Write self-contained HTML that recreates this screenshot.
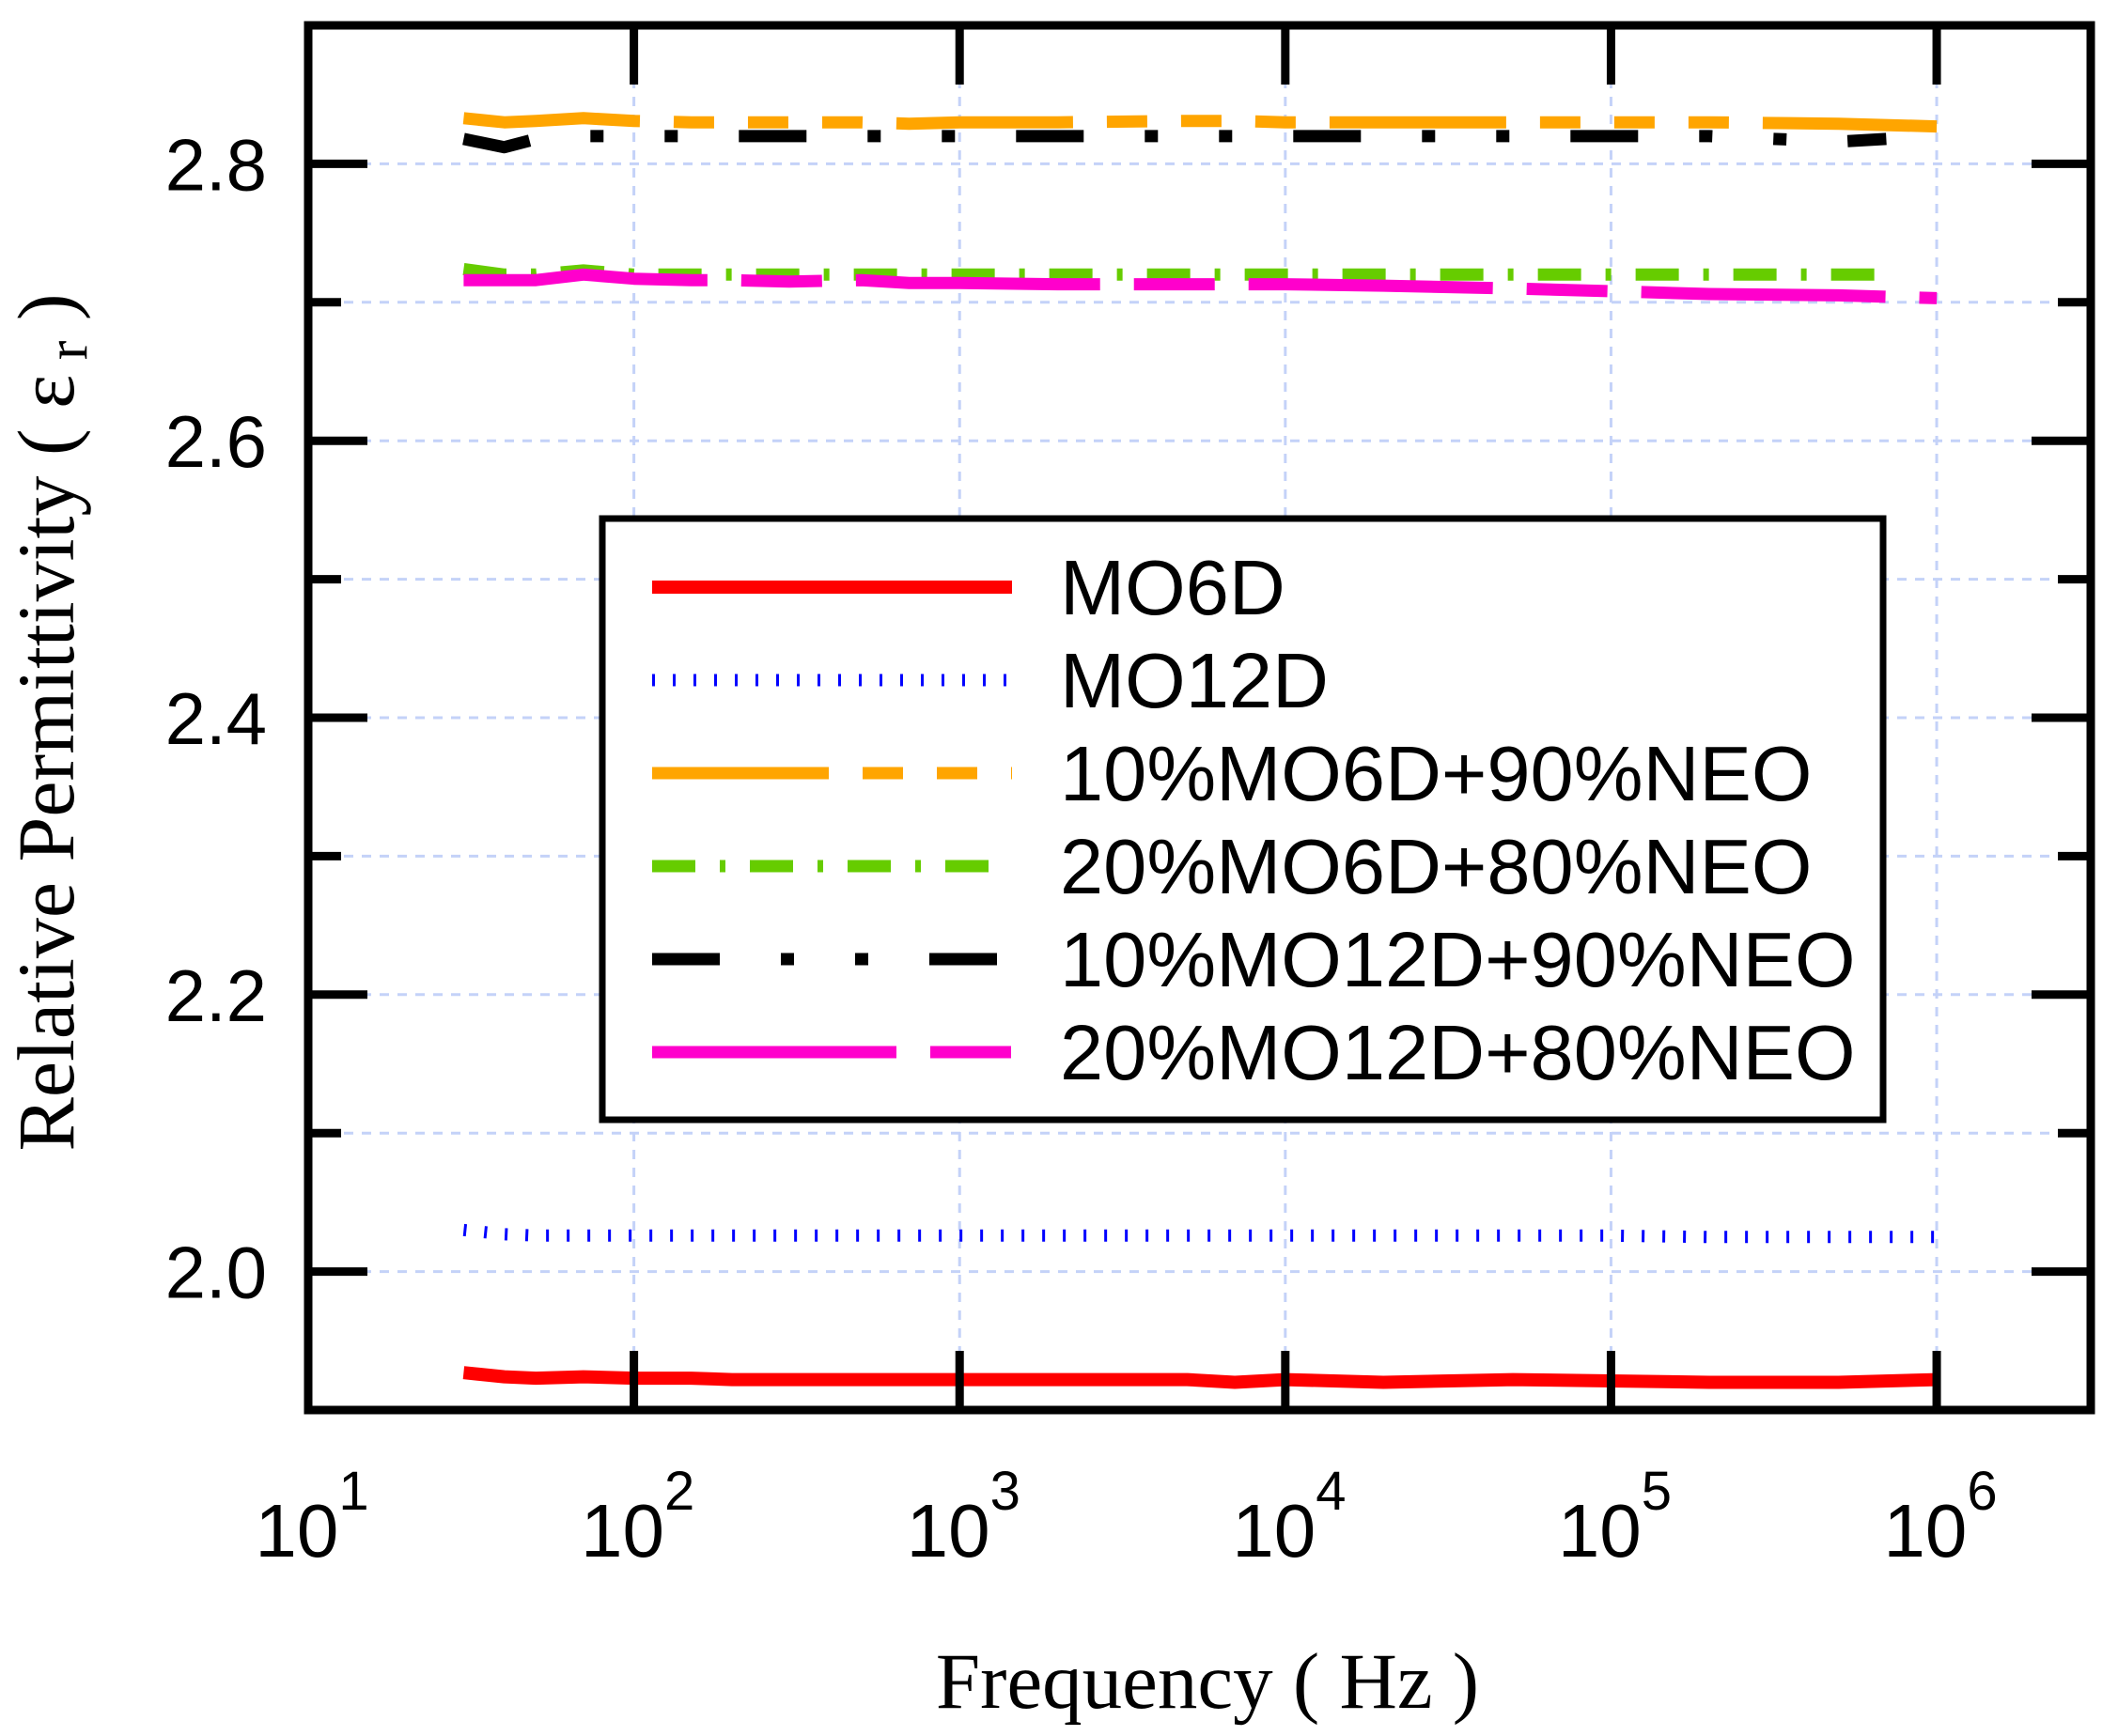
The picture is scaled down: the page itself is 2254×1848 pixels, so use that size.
<!DOCTYPE html>
<html><head><meta charset="utf-8"><style>
html,body{margin:0;padding:0;background:#fff}
svg{display:block}
text{font-family:"Liberation Sans",sans-serif}
.serif{font-family:"Liberation Serif",serif}
</style></head><body>
<svg id="chart" width="2254" height="1848" viewBox="0 0 2254 1848" xmlns="http://www.w3.org/2000/svg">
<g id="grid"></g>
<g id="series"></g>
<g id="axes"></g>
<g id="legend"></g>
<text class="serif" x="1285" y="1818" font-size="85" text-anchor="middle">Frequency ( Hz )</text>
<text class="serif" transform="translate(78,769) rotate(-90)" font-size="86" text-anchor="middle">Relative Permittivity ( ε<tspan font-size="62" dy="14"> r</tspan><tspan dy="-14"> )</tspan></text>
</svg>
<script>
const freqs=[30,40,50,70,100,150,200,300,500,700,1e3,2e3,5e3,7e3,1e4,2e4,5e4,1e5,2e5,5e5,1e6];
const freqsShort=[30,40,50,70,100,150,200,300,500,700,1e3,2e3,5e3,7e3,1e4,2e4,5e4,1e5,2e5,5e5,7e5];
const mo6d=[1.927,1.924,1.923,1.924,1.923,1.923,1.922,1.922,1.922,1.922,1.922,1.922,1.922,1.920,1.922,1.920,1.922,1.921,1.920,1.920,1.922];
const mo12d=[2.030,2.027,2.026,2.026,2.026,2.026,2.026,2.026,2.026,2.026,2.026,2.026,2.026,2.026,2.026,2.026,2.026,2.026,2.025,2.025,2.025];
const mo6d10=[2.833,2.830,2.831,2.833,2.831,2.830,2.830,2.830,2.830,2.829,2.830,2.830,2.831,2.831,2.830,2.830,2.830,2.830,2.830,2.829,2.827];
const mo6d20=[2.724,2.720,2.720,2.723,2.720,2.720,2.720,2.720,2.720,2.720,2.720,2.720,2.720,2.720,2.720,2.720,2.720,2.720,2.720,2.720,2.720];
const mo12d10=[2.818,2.812,2.818,2.820,2.820,2.820,2.820,2.820,2.820,2.820,2.820,2.820,2.820,2.820,2.820,2.820,2.820,2.820,2.820,2.816,2.818];
const mo12d20=[2.716,2.716,2.716,2.720,2.717,2.716,2.716,2.715,2.716,2.714,2.714,2.713,2.713,2.713,2.713,2.712,2.710,2.708,2.706,2.705,2.703];
const yTicks=[2.0,2.2,2.4,2.6,2.8];
const yMinor=[2.1,2.3,2.5,2.7];
const xTicks=[1,2,3,4,5,6];
const legendLabels=["MO6D","MO12D","10%MO6D+90%NEO","20%MO6D+80%NEO","10%MO12D+90%NEO","20%MO12D+80%NEO"];

const L=328,R=2225,T=27,B=1501;
const XMIN=1,XMAX=6.473;
const XL=e=>L+(e-XMIN)*(R-L)/(XMAX-XMIN);
const X=f=>XL(Math.log10(f));
const Y=v=>B-(v-1.9)*(B-T)/1.0;
const NS="http://www.w3.org/2000/svg";
function mk(tag,parent,attrs){const e=document.createElementNS(NS,tag);for(const k in attrs)e.setAttribute(k,attrs[k]);parent.appendChild(e);return e;}
const grid=document.getElementById('grid'),series=document.getElementById('series'),axes=document.getElementById('axes'),legend=document.getElementById('legend');

[2.0,2.1,2.2,2.3,2.4,2.5,2.6,2.7,2.8].forEach(v=>{const l=mk('line',grid,{x1:L,x2:R,y1:Y(v),y2:Y(v),stroke:'#c4d2f8','stroke-width':3,'stroke-dasharray':'10,9'});

});
[2,3,4,5,6].forEach(e=>{const l=mk('line',grid,{x1:XL(e),x2:XL(e),y1:T,y2:B,stroke:'#c4d2f8','stroke-width':3,'stroke-dasharray':'10,9'});

});

const styles=[
 {c:'#ff0000',d:'',w:14},
 {c:'#0000ff',d:'3,19',w:13},
 {c:'#ffa500',d:'188,36,43,36,43,36,43,36',w:13},
 {c:'#66cc00',d:'46,26,6,26',w:13},
 {c:'#000000',d:'72,65,14,65,14,65',w:13},
 {c:'#ff00cc',d:'260,36,86,36',w:13}
];
const data=[[freqs,mo6d],[freqs,mo12d],[freqs,mo6d10],[freqsShort,mo6d20],[freqsShort,mo12d10],[freqs,mo12d20]];
const names=['series-mo6d','series-mo12d','series-10mo6d-90neo','series-20mo6d-80neo','series-10mo12d-90neo','series-20mo12d-80neo'];
data.forEach((s,i)=>{const pts=s[0].map((f,j)=>X(f).toFixed(1)+','+Y(s[1][j]).toFixed(1)).join(' ');
 const st=styles[i];const a={points:pts,fill:'none',stroke:st.c,'stroke-width':st.w,'stroke-linejoin':'round'};
 if(st.d)a['stroke-dasharray']=st.d;
 const p=mk('polyline',series,a);
 
 });

const fr=mk('rect',axes,{x:L,y:T,width:R-L,height:B-T,fill:'none',stroke:'#000','stroke-width':9});


yTicks.forEach(v=>{[[L,L+63],[R,R-63]].forEach(p=>{const t=mk('line',axes,{x1:p[0],x2:p[1],y1:Y(v),y2:Y(v),stroke:'#000','stroke-width':9});
 
 });
 const tx=mk('text',axes,{x:284,y:Y(v)+28,'font-size':78,'text-anchor':'end'});tx.textContent=v.toFixed(1);
 
 });
yMinor.forEach(v=>{[[L,L+35],[R,R-35]].forEach(p=>{const t=mk('line',axes,{x1:p[0],x2:p[1],y1:Y(v),y2:Y(v),stroke:'#000','stroke-width':9});
 
 });});
xTicks.forEach(e=>{[[B,B-63],[T,T+63]].forEach(p=>{const t=mk('line',axes,{x1:XL(e),x2:XL(e),y1:p[0],y2:p[1],stroke:'#000','stroke-width':9});
 
 });
 const tx=mk('text',axes,{x:XL(e)+4,y:1657,'font-size':80,'text-anchor':'middle'});
 tx.innerHTML='10<tspan font-size="58" dy="-50">'+e+'</tspan>';
 
 });

const lb=mk('rect',legend,{x:641,y:552,width:1363,height:640,fill:'#fff',stroke:'#000','stroke-width':7});


const ly=[625,724,823,922,1021,1120];
legendLabels.forEach((lab,i)=>{const st=styles[i];const a={x1:694,x2:1077,y1:ly[i],y2:ly[i],stroke:st.c,'stroke-width':st.w};
 if(st.d)a['stroke-dasharray']=st.d;
 const l=mk('line',legend,a);
 
 
 const t=mk('text',legend,{x:1128,y:ly[i]+29,'font-size':83});t.textContent=lab;
 
 });
</script>
</body></html>
